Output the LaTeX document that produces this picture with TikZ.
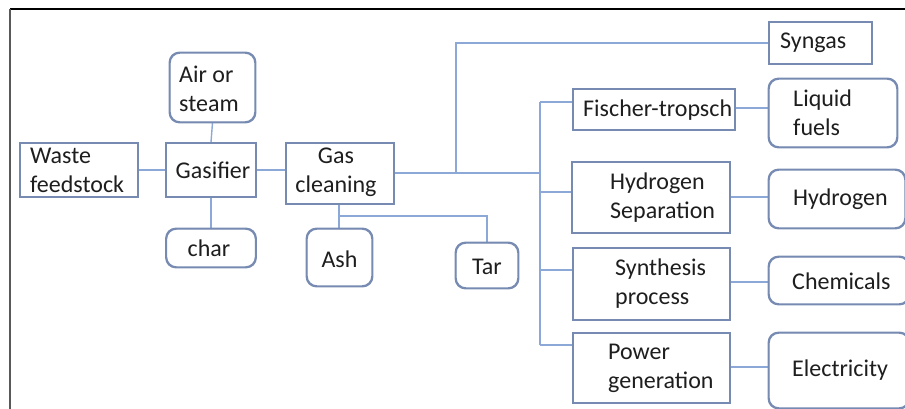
\documentclass[tikz,border=0pt]{standalone}
\usepackage{fontspec}
\setmainfont{Carlito}
\begin{document}
\begin{tikzpicture}[x=1pt,y=-1pt,
  boxc/.style={draw=boxcol, line width=1.4pt, fill=white, inner sep=0pt},
  rbox/.style={boxc, rounded corners=10pt},
  lbl/.style={anchor=west, align=left, inner sep=0pt, text=textcol},
  clbl/.style={align=center, inner sep=0pt, text=textcol},
  conn/.style={draw=linecol, line width=1.4pt}]
\definecolor{boxcol}{RGB}{118,138,178}
\definecolor{linecol}{RGB}{140,168,215}
\definecolor{textcol}{RGB}{30,30,30}
\useasboundingbox (0,0) rectangle (905,409);
\clip (0,0) rectangle (905,409);
\fontsize{24}{29}\selectfont
% frame
\draw[line width=1.5pt, black] (10,9) -- (906,9);
\draw[line width=2pt, black!65] (10,9) -- (10,410);
% connectors first (behind boxes)
\coordinate (j1) at (456,173);
\coordinate (j2) at (540,173);
\coordinate (jt) at (540,102);
\coordinate (jb) at (540,345);
\coordinate (ja) at (339,216);
% boxes
\node[boxc, minimum width=118, minimum height=54] (waste) at (79,170) {};
\node[boxc, minimum width=89, minimum height=54] (gas) at (211,170) {};
\node[rbox, minimum width=85, minimum height=69] (air) at (212.5,87.5) {};
\node[rbox, minimum width=89, minimum height=38] (char) at (211,248) {};
\node[boxc, minimum width=108, minimum height=61] (clean) at (340,173.5) {};
\node[rbox, minimum width=65, minimum height=57] (ash) at (339.5,257.5) {};
\node[rbox, minimum width=62, minimum height=45] (tar) at (487,265.5) {};
\node[boxc, minimum width=103, minimum height=42] (syn) at (820.5,43) {};
\node[boxc, minimum width=162, minimum height=41] (ft) at (654,109.5) {};
\node[rbox, minimum width=128, minimum height=68] (lf) at (833,113) {};
\node[boxc, minimum width=158, minimum height=71] (hs) at (651,197.5) {};
\node[rbox, minimum width=136, minimum height=58] (hyd) at (837,199) {};
\node[boxc, minimum width=157, minimum height=72] (sp) at (651.5,284) {};
\node[rbox, minimum width=140, minimum height=47] (chem) at (839,280.5) {};
\node[boxc, minimum width=157, minimum height=70] (pg) at (651.5,368) {};
\node[rbox, minimum width=140, minimum height=75] (elec) at (839,370.5) {};
% connectors
\draw[conn] (waste.east) -- (gas.west);
\draw[conn] (air.south) -- (gas.north);
\draw[conn] (gas.south) -- (char.north);
\draw[conn] (gas.east) -- (gas.east -| clean.west);
\draw[conn] (clean.east |- j1) -- (j1) -- (j2);
\draw[conn] (j1) |- (syn.west);
\draw[conn] (jt) -- (jb);
\draw[conn] (jt) -- (jt -| ft.west);
\draw[conn] (540,192) coordinate (jh) -- (jh -| hs.west);
\draw[conn] (540,270) coordinate (js) -- (js -| sp.west);
\draw[conn] (jb) -- (jb -| pg.west);
\draw[conn] (ft.east |- 0,108) coordinate (fte) -- (fte -| lf.west);
\draw[conn] (hs.east |- 0,197) coordinate (hse) -- (hse -| hyd.west);
\draw[conn] (sp.east |- 0,282) coordinate (spe) -- (spe -| chem.west);
\draw[conn] (pg.east |- 0,367) coordinate (pge) -- (pge -| elec.west);
\draw[conn] (ja |- clean.south) -- (ja |- ash.north);
\draw[conn] (ja) -| (tar.north);
% redraw box outlines on top of connector ends
\foreach \n in {waste,gas,clean,syn,ft,hs,sp,pg}{\draw[draw=boxcol, line width=1.4pt] (\n.north west) rectangle (\n.south east);}
\foreach \n in {air,char,ash,tar,lf,hyd,chem,elec}{\draw[draw=boxcol, line width=1.4pt, rounded corners=10pt] (\n.north west) rectangle (\n.south east);}
% labels
\node[lbl] (twaste) at (30,170) {Waste\\feedstock};
\node[clbl] (tgas) at (213,170) {Gasifier};
\node[lbl] (tair) at (179,89) {Air or\\steam};
\node[clbl] (tchar) at (209,248) {char};
\node[clbl] (tclean) at (336,172) {Gas\\cleaning};
\node[clbl] (tash) at (339.5,259) {Ash};
\node[clbl] (ttar) at (487,267) {Tar};
\node[lbl] (tsyn) at (780,43) {Syngas};
\node[lbl] (tft) at (583,110) {Fischer-tropsch};
\node[lbl] (tlf) at (793,113) {Liquid\\fuels};
\node[lbl] (ths) at (610,198) {Hydrogen\\Separation};
\node[lbl] (thyd) at (793,199) {Hydrogen};
\node[lbl] (tsp) at (615,284) {Synthesis\\process};
\node[lbl] (tchem) at (792,281) {Chemicals};
\node[lbl] (tpg) at (608,368) {Power\\generation};
\node[lbl] (telec) at (792,370) {Electricity};
\end{tikzpicture}
\end{document}
